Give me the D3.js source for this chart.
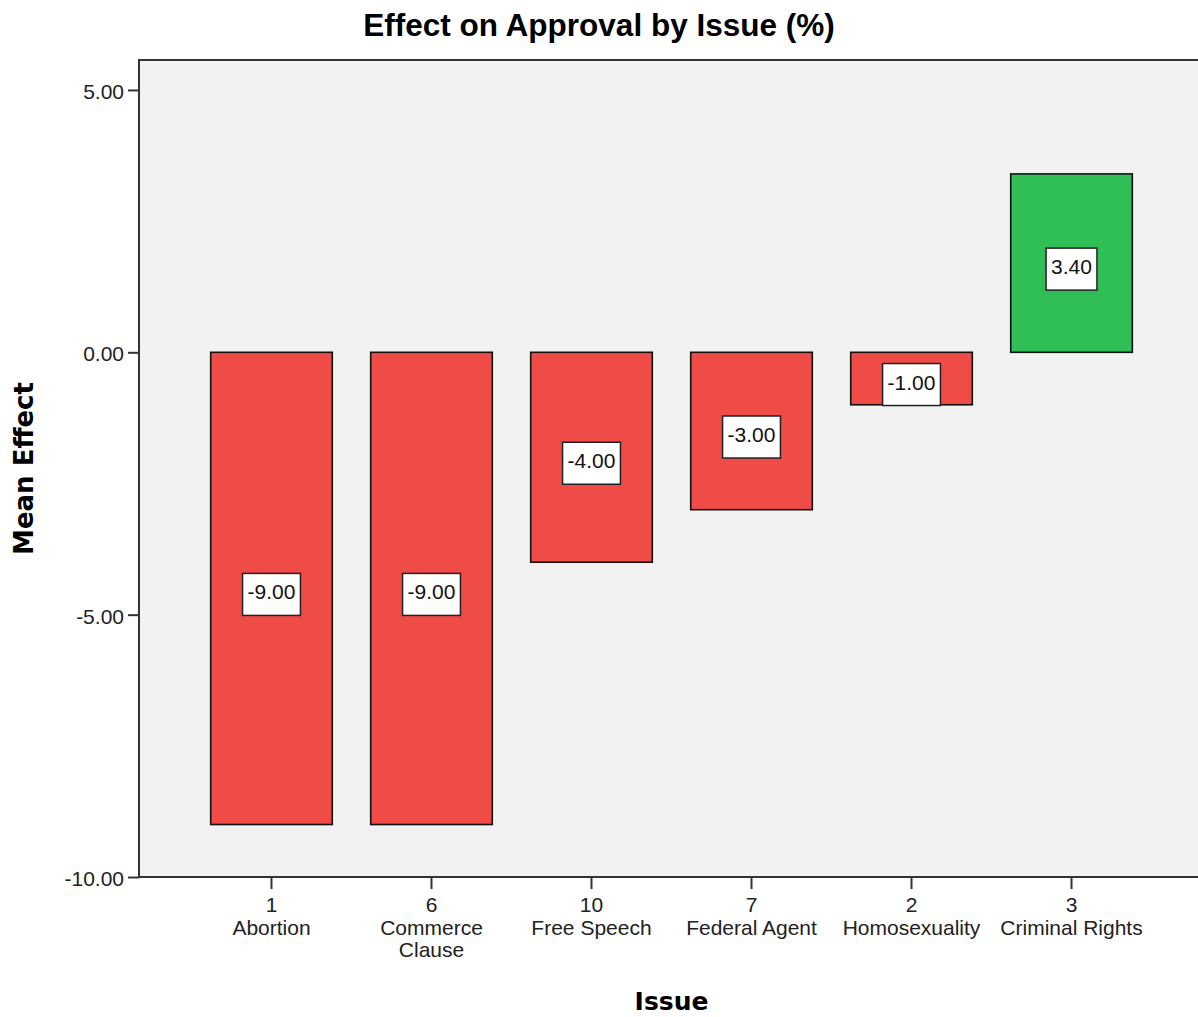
<!DOCTYPE html>
<html>
<head>
<meta charset="utf-8">
<script src="https://cdn.jsdelivr.net/npm/d3@7"></script>
<style>
  html, body { margin: 0; padding: 0; background: #fff; }
  svg { display: block; }
</style>
</head>
<body>
<svg id="chart" width="1198" height="1017"></svg>
<script>
// Issue codes, names and their mean effect on approval (%)
const issueCodes = ["1", "6", "10", "7", "2", "3"];
const issueNames = ["Abortion", "Commerce Clause", "Free Speech", "Federal Agent", "Homosexuality", "Criminal Rights"];
const meanEffect = [-9.00, -9.00, -4.00, -3.00, -1.00, 3.40];
const yTicks = [5, 0, -5, -10];

const titleText = "Effect on Approval by Issue (%)";
const xTitle = "Issue";
const yTitle = "Mean Effect";

const fmt = d3.formatLocale({ decimal: ".", thousands: ",", grouping: [3], currency: ["$", ""], minus: "-" }).format(".2f");

const svg = d3.select("#chart");
const plot = { left: 139, top: 60, right: 1204, bottom: 877 };

const x = d3.scaleBand()
  .domain(issueCodes)
  .range([plot.left, plot.right])
  .paddingInner(0.24)
  .paddingOuter(0.448);

const y = d3.scaleLinear()
  .domain([-10, 5.571])
  .range([plot.bottom, plot.top]);

const data = issueCodes.map((c, i) => ({ code: c, name: issueNames[i], value: meanEffect[i] }));

// Plot background
svg.append("rect")
  .attr("x", plot.left).attr("y", plot.top)
  .attr("width", plot.right - plot.left).attr("height", plot.bottom - plot.top)
  .attr("fill", "#f2f2f2");

// Bars
svg.append("g").selectAll("rect")
  .data(data)
  .join("rect")
  .attr("x", d => x(d.code))
  .attr("width", x.bandwidth())
  .attr("y", d => y(Math.max(0, d.value)))
  .attr("height", d => Math.abs(y(d.value) - y(0)))
  .attr("fill", d => d.value < 0 ? "#ef4b47" : "#30be57")
  .attr("stroke", "#111")
  .attr("stroke-width", 1.6);

// Value labels in white boxes
const lab = svg.append("g").selectAll("g")
  .data(data)
  .join("g")
  .attr("transform", d => `translate(${x(d.code) + x.bandwidth() / 2},${(y(d.value) + y(0)) / 2})`);

lab.append("text")
  .attr("text-anchor", "middle")
  .attr("y", 11)
  .attr("font-family", "Liberation Sans, Arial, sans-serif")
  .attr("font-size", 21)
  .attr("fill", "#111")
  .text(d => fmt(d.value))
  .each(function () {
    const w = this.getComputedTextLength();
    d3.select(this.parentNode).insert("rect", "text")
      .attr("x", -w / 2 - 5).attr("y", -15)
      .attr("width", w + 10).attr("height", 42)
      .attr("fill", "#fff")
      .attr("stroke", "#222")
      .attr("stroke-width", 1.5);
  });

// Plot frame
svg.append("rect")
  .attr("x", plot.left).attr("y", plot.top)
  .attr("width", plot.right - plot.left).attr("height", plot.bottom - plot.top)
  .attr("fill", "none")
  .attr("stroke", "#333")
  .attr("stroke-width", 2);

// Y axis
const yAxis = svg.append("g")
  .attr("transform", `translate(${plot.left},0)`)
  .call(d3.axisLeft(y).tickValues(yTicks).tickFormat(fmt).tickSize(11).tickPadding(4));
yAxis.select(".domain").remove();
yAxis.selectAll(".tick line").attr("stroke", "#333").attr("stroke-width", 2);
yAxis.selectAll(".tick text")
  .attr("font-family", "Liberation Sans, Arial, sans-serif")
  .attr("font-size", 21)
  .attr("fill", "#222")
  .attr("dy", "0.4em");

// X axis: issue code, then the issue name wrapped to the band step
const xAxis = svg.append("g")
  .attr("transform", `translate(0,${plot.bottom})`)
  .call(d3.axisBottom(x).tickSize(12).tickPadding(8));
xAxis.select(".domain").remove();
xAxis.selectAll(".tick line").attr("stroke", "#333").attr("stroke-width", 2);
xAxis.selectAll(".tick text")
  .attr("font-family", "Liberation Sans, Arial, sans-serif")
  .attr("font-size", 21)
  .attr("fill", "#222");

xAxis.selectAll(".tick").each(function (code) {
  const name = issueNames[issueCodes.indexOf(code)];
  const g = d3.select(this);
  const probe = g.append("text")
    .attr("font-family", "Liberation Sans, Arial, sans-serif")
    .attr("font-size", 21)
    .text(name);
  const lines = probe.node().getComputedTextLength() > x.step() ? name.split(" ") : [name];
  probe.remove();
  lines.forEach((line, i) => {
    g.append("text")
      .attr("text-anchor", "middle")
      .attr("y", 58 + i * 22)
      .attr("font-family", "Liberation Sans, Arial, sans-serif")
      .attr("font-size", 21)
      .attr("fill", "#222")
      .text(line);
  });
});

// Titles
svg.append("text")
  .attr("x", 599).attr("y", 36)
  .attr("text-anchor", "middle")
  .attr("font-family", "Liberation Sans, Arial, sans-serif")
  .attr("font-weight", "bold")
  .attr("font-size", 31.5)
  .attr("fill", "#000")
  .text(titleText);

svg.append("text")
  .attr("x", (plot.left + plot.right) / 2).attr("y", 1010)
  .attr("text-anchor", "middle")
  .attr("font-family", "DejaVu Sans, sans-serif")
  .attr("font-weight", "bold")
  .attr("font-size", 25)
  .attr("fill", "#000")
  .text(xTitle);

svg.append("text")
  .attr("transform", `translate(33,${(plot.top + plot.bottom) / 2}) rotate(-90)`)
  .attr("text-anchor", "middle")
  .attr("font-family", "DejaVu Sans, sans-serif")
  .attr("font-weight", "bold")
  .attr("font-size", 26)
  .attr("fill", "#000")
  .text(yTitle);
</script>
</body>
</html>
